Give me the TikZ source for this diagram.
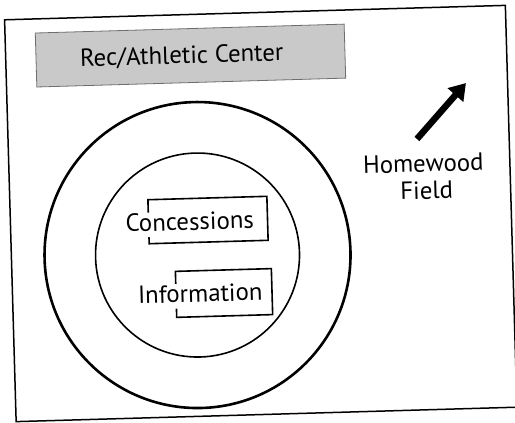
\documentclass[tikz,border=0pt]{standalone}
\usepackage{fontspec}
\setmainfont{PT Sans}
\usetikzlibrary{arrows.meta}
\definecolor{boxgray}{RGB}{201,201,201}
\definecolor{boxedge}{RGB}{110,110,110}
\begin{document}
\begin{tikzpicture}[x=1pt,y=-1pt,
  frameline/.style={draw=black, line width=1.5pt},
  recbox/.style={fill=boxgray, draw=boxedge, line width=0.8pt, inner sep=0pt},
  standbox/.style={draw=black, line width=1.6pt, inner sep=0pt},
  lbl/.style={font=\fontsize{24.8}{28}\selectfont, inner sep=0pt, anchor=base},
  boxlbl/.style={font=\fontsize{24.8}{28}\selectfont, fill=white, inner xsep=1pt, inner ysep=1pt, text depth=5pt, anchor=base},
  bigring/.style={draw=black, line width=2.6pt},
  smallring/.style={draw=black, line width=1.6pt},
  fieldarrow/.style={draw=black, line width=6.5pt, -{Triangle[length=16pt,width=20pt]}}
]
\useasboundingbox (0,0) rectangle (515,423);
\fill[white] (0,0) rectangle (515,423);
\begin{scope}[shift={(260.75,213.5)}, rotate=1.65, transform shape]
  % outer frame
  \draw[frameline] (-250.5,-201) rectangle (250.5,201);
  % Rec/Athletic Center
  \node[recbox, minimum width=309pt, minimum height=54pt] (rec) at (-65.7,-159.9) {};
  \node[lbl] (rectext) at (-74.4,-152.2) {Rec/Athletic Center};
  % rings
  \node[bigring, circle, minimum size=306pt, inner sep=0pt] (outer) at (-64.4,39.7) {};
  \node[smallring, circle, minimum size=204pt, inner sep=0pt] (inner) at (-64.4,39.7) {};
  % stands
  \node[standbox, minimum width=119pt, minimum height=44pt] (concbox) at (-52.9,5.0) {};
  \node[boxlbl] (conc) at (-71.2,14.45) {Concessions};
  \node[standbox, minimum width=96pt, minimum height=46pt] (infobox) at (-39.0,78.4) {};
  \node[boxlbl] (info) at (-62.8,86.7) {Information};
  % Homewood Field
  \node[lbl] (home) at (163.9,-36.8) {Homewood};
  \node[lbl] (field) at (166.6,-9.7) {Field};
  \coordinate (hwtail) at (158.3,-70.0);
  \coordinate (hwtip) at (208.9,-124.5);
  \draw[fieldarrow] (hwtail) -- (hwtip);
\end{scope}
\end{tikzpicture}
\end{document}
